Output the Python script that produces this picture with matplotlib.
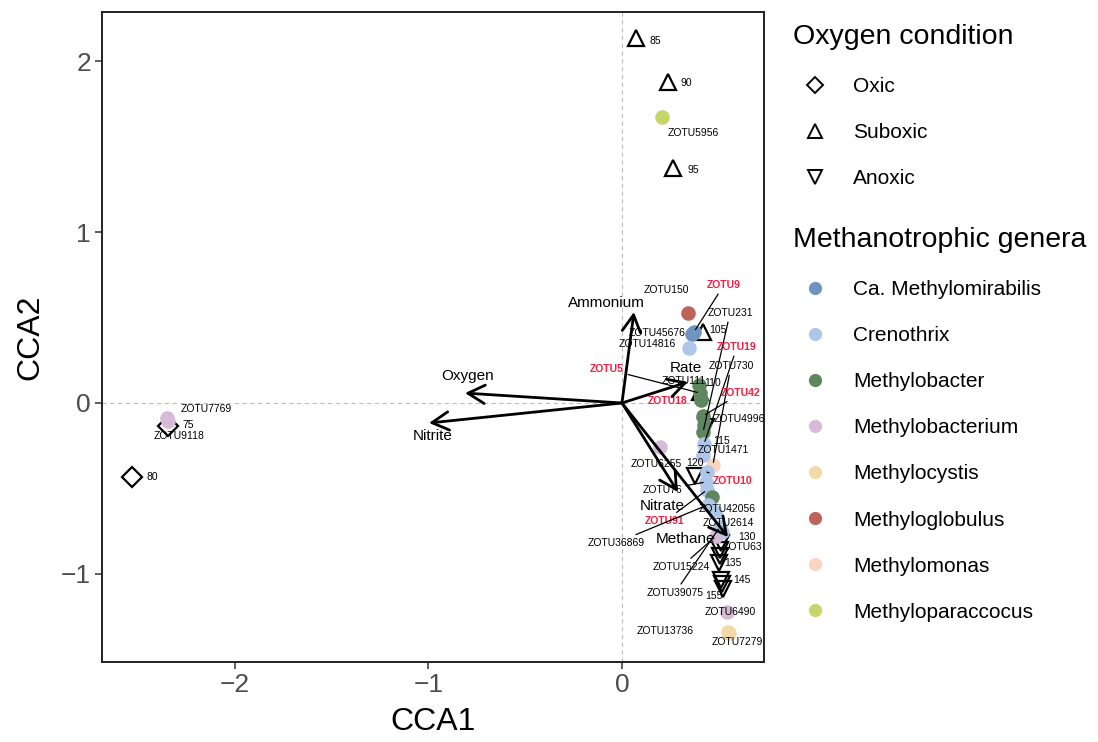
import matplotlib
matplotlib.use("Agg")
import matplotlib.pyplot as plt
from matplotlib.lines import Line2D
from matplotlib.patches import ArrowStyle

plt.rcParams['font.family'] = ['Liberation Sans', 'DejaVu Sans']

# ---------------- sites (samples by depth) ----------------
site_names = ["75", "80", "85", "90", "95", "105", "110", "115", "120",
              "125", "130", "135", "140", "145", "150", "155"]
site_cca1 = [-2.346, -2.532, 0.072, 0.238, 0.264, 0.419, 0.403, 0.434, 0.377,
             0.506, 0.512, 0.501, 0.506, 0.512, 0.517, 0.522]
site_cca2 = [-0.135, -0.433, 2.135, 1.877, 1.374, 0.415, 0.064, -0.140, -0.427,
             -0.860, -0.818, -0.935, -0.895, -1.035, -1.058, -1.088]
site_oxygen = ["Oxic", "Oxic", "Suboxic", "Suboxic", "Suboxic", "Suboxic", "Suboxic",
               "Anoxic", "Anoxic", "Anoxic", "Anoxic", "Anoxic", "Anoxic", "Anoxic",
               "Anoxic", "Anoxic"]
site_labelled = ["75", "80", "85", "90", "95", "105", "110", "115", "120",
                 "130", "135", "145", "155"]

# ---------------- methanotroph OTUs ----------------
otu_names = ["ZOTU5956", "ZOTU7769", "ZOTU9118", "ZOTU150", "ZOTU9", "ZOTU45676",
             "ZOTU14816", "ZOTU231", "ZOTU19", "ZOTU730", "ZOTU111", "ZOTU5",
             "ZOTU18", "ZOTU42", "ZOTU4996", "ZOTU1471", "ZOTU6255", "ZOTU10",
             "ZOTU76", "ZOTU91", "ZOTU42056", "ZOTU2614", "ZOTU36869", "ZOTU63",
             "ZOTU15224", "ZOTU39075", "ZOTU6490", "ZOTU13736", "ZOTU7279"]
otu_genus = ["Methyloparaccocus", "Methylobacterium", "Methylobacterium", "Methyloglobulus",
             "Ca. Methylomirabilis", "Ca. Methylomirabilis", "Crenothrix", "Methylobacter",
             "Crenothrix", "Methylomonas", "Methylobacter", "Methylobacter",
             "Methylobacter", "Methylobacter", "Methylobacter", "Crenothrix",
             "Methylobacterium", "Crenothrix", "Crenothrix", "Crenothrix",
             "Methylobacter", "Crenothrix", "Crenothrix", "Crenothrix",
             "Methylobacterium", "Crenothrix", "Methylobacterium", "Methylocystis",
             "Methylocystis"]
otu_cca1 = [0.207, -2.351, -2.346, 0.341, 0.372, 0.362, 0.346, 0.419, 0.424, 0.470,
            0.398, 0.403, 0.408, 0.419, 0.424, 0.419, 0.196, 0.439, 0.434, 0.439,
            0.465, 0.481, 0.444, 0.517, 0.486, 0.506, 0.543, 0.548, 0.553]
otu_cca2 = [1.673, -0.088, -0.105, 0.526, 0.415, 0.404, 0.322, -0.170, -0.240, -0.363,
            0.105, 0.058, 0.018, -0.076, -0.129, -0.304, -0.257, -0.404, -0.462, -0.509,
            -0.550, -0.637, -0.596, -0.754, -0.778, -0.725, -1.222, -1.339, -1.345]
highlighted = ["ZOTU9", "ZOTU19", "ZOTU5", "ZOTU18", "ZOTU42", "ZOTU10", "ZOTU91"]

genera = ["Ca. Methylomirabilis", "Crenothrix", "Methylobacter", "Methylobacterium",
          "Methylocystis", "Methyloglobulus", "Methylomonas", "Methyloparaccocus"]
genus_colors = ["#7094C0", "#AEC7E8", "#5E8760", "#D5BBD7",
                "#F4D8A8", "#BE625C", "#FAD4C0", "#C4D668"]

# ---------------- environmental vectors ----------------
env_names = ["Ammonium", "Oxygen", "Nitrite", "Rate", "Nitrate", "Methane"]
env_cca1 = [0.062, -0.811, -0.997, 0.341, 0.289, 0.548]
env_cca2 = [0.532, 0.058, -0.117, 0.123, -0.520, -0.784]

# label placement (pixel offsets from the point, repel-style)
otu_label_offset = {
    "ZOTU5956": (31, -16), "ZOTU7769": (39, 9), "ZOTU9118": (11, -15),
    "ZOTU150": (-22, 23), "ZOTU9": (30, 47), "ZOTU45676": (-35, 1),
    "ZOTU14816": (-42, 4), "ZOTU231": (27, 119), "ZOTU19": (33, 97),
    "ZOTU730": (18, 99), "ZOTU111": (-15, 4), "ZOTU5": (-93, 24),
    "ZOTU18": (-33, -1), "ZOTU42": (38, 23), "ZOTU4996": (35, 6),
    "ZOTU1471": (20, 5), "ZOTU6255": (-4, -17), "ZOTU10": (26, -9),
    "ZOTU76": (-44, -8), "ZOTU91": (-42, -31), "ZOTU42056": (15, -12),
    "ZOTU2614": (13, -11), "ZOTU36869": (-92, -38), "ZOTU63": (20, -15),
    "ZOTU15224": (-35, -31), "ZOTU39075": (-45, -66), "ZOTU6490": (3, 0),
    "ZOTU13736": (-63, 1), "ZOTU7279": (8, -9),
}
otu_with_segment = ["ZOTU9", "ZOTU231", "ZOTU19", "ZOTU730", "ZOTU5", "ZOTU42",
                    "ZOTU10", "ZOTU76", "ZOTU91", "ZOTU36869", "ZOTU15224",
                    "ZOTU39075"]
site_label_offset = {
    "75": (20, 1), "80": (20, 0), "85": (19, -3), "90": (18, -1), "95": (20, -2),
    "105": (15, 2), "110": (13, 9), "115": (16, -14), "120": (0, 13),
    "130": (26, 6), "135": (14, 0), "145": (21, 0), "155": (-9, -7),
}
env_label_offset = {
    "Ammonium": (-28, 9), "Oxygen": (3, 17), "Nitrite": (4, -13),
    "Rate": (-2, 14), "Nitrate": (-16, -14), "Methane": (-43, -2),
}

oxy_markers = {"Oxic": "D", "Suboxic": "^", "Anoxic": "v"}
oxy_sizes = {"Oxic": 10, "Suboxic": 11, "Anoxic": 11}

fig = plt.figure(figsize=(10.98, 7.42), dpi=100)
ax = fig.add_axes([102 / 1098, 1 - 662 / 742, (764 - 102) / 1098, (662 - 12) / 742])

ax.set_xlim(-2.687, 0.734)
ax.set_ylim(-1.515, 2.287)
ax.axhline(0, color="#BDBDBD", ls=(0, (4, 3)), lw=0.8, zorder=0)
ax.axvline(0, color="#BDBDBD", ls=(0, (4, 3)), lw=0.8, zorder=0)

# site markers (under the OTU points)
for x, y, ox in zip(site_cca1, site_cca2, site_oxygen):
    ax.plot(x, y, oxy_markers[ox], ms=oxy_sizes[ox], mfc="none", mec="black",
            mew=1.6, zorder=2)

# OTU points
col_of = dict(zip(genera, genus_colors))
for x, y, g in zip(otu_cca1, otu_cca2, otu_genus):
    ax.plot(x, y, "o", ms=10.5, color=col_of[g], mec="none", zorder=3)

# OTU labels
for name, x, y in zip(otu_names, otu_cca1, otu_cca2):
    red = name in highlighted
    kw = dict(textcoords="offset pixels", ha="center", va="center",
              fontsize=7.5, color="#F21F44" if red else "black",
              fontweight="bold" if red else "normal", zorder=4)
    if name in otu_with_segment:
        kw["arrowprops"] = dict(arrowstyle="-", lw=0.9, color="black",
                                shrinkA=1, shrinkB=2)
    ax.annotate(name, xy=(x, y), xytext=otu_label_offset[name], **kw)

# site labels
for name, x, y in zip(site_names, site_cca1, site_cca2):
    if name in site_labelled:
        ax.annotate(name, xy=(x, y), xytext=site_label_offset[name],
                    textcoords="offset pixels", ha="center", va="center",
                    fontsize=7.5, zorder=4)

# environmental arrows
head = ArrowStyle("->", head_length=0.55, head_width=0.3)
for name, x, y in zip(env_names, env_cca1, env_cca2):
    ax.annotate("", xy=(x, y), xytext=(0, 0),
                arrowprops=dict(arrowstyle=head, lw=2.0, color="black",
                                mutation_scale=22, shrinkA=0, shrinkB=0),
                zorder=5)
    ax.annotate(name, xy=(x, y), xytext=env_label_offset[name],
                textcoords="offset pixels", ha="center", va="center",
                fontsize=11, zorder=6)

ax.set_xticks([-2, -1, 0])
ax.set_yticks([-1, 0, 1, 2])
ax.set_xticklabels(["\u22122", "\u22121", "0"])
ax.set_yticklabels(["\u22121", "0", "1", "2"])
ax.tick_params(length=5, width=1.1, color="#333333", labelcolor="#4D4D4D",
               labelsize=19, pad=3)
for sp in ax.spines.values():
    sp.set_linewidth(1.4)
    sp.set_color("#222222")
ax.set_xlabel("CCA1", fontsize=23, labelpad=7)
ax.set_ylabel("CCA2", fontsize=23, labelpad=11)

# legends
oxy_handles = [Line2D([], [], ls="", marker=oxy_markers[k], ms=oxy_sizes[k] - 1.5,
                      mfc="none", mec="black", mew=1.4)
               for k in ["Oxic", "Suboxic", "Anoxic"]]
fig.legend(oxy_handles, ["Oxic", "Suboxic", "Anoxic"], title="Oxygen condition",
           loc="upper left", bbox_to_anchor=(793 / 1098, 1 - 24 / 742),
           frameon=False, fontsize=15, title_fontsize=20.5, borderpad=0,
           borderaxespad=0, labelspacing=1.3, handlelength=2.1,
           handletextpad=0.77, alignment="left")

genus_handles = [Line2D([], [], ls="", marker="o", ms=9.5, color=c, mec="none")
                 for c in genus_colors]
fig.legend(genus_handles, genera, title="Methanotrophic genera",
           loc="upper left", bbox_to_anchor=(793 / 1098, 1 - 227 / 742),
           frameon=False, fontsize=15, title_fontsize=20.5, borderpad=0,
           borderaxespad=0, labelspacing=1.3, handlelength=2.1,
           handletextpad=0.77, alignment="left")

fig.savefig("out.png", dpi=100)
